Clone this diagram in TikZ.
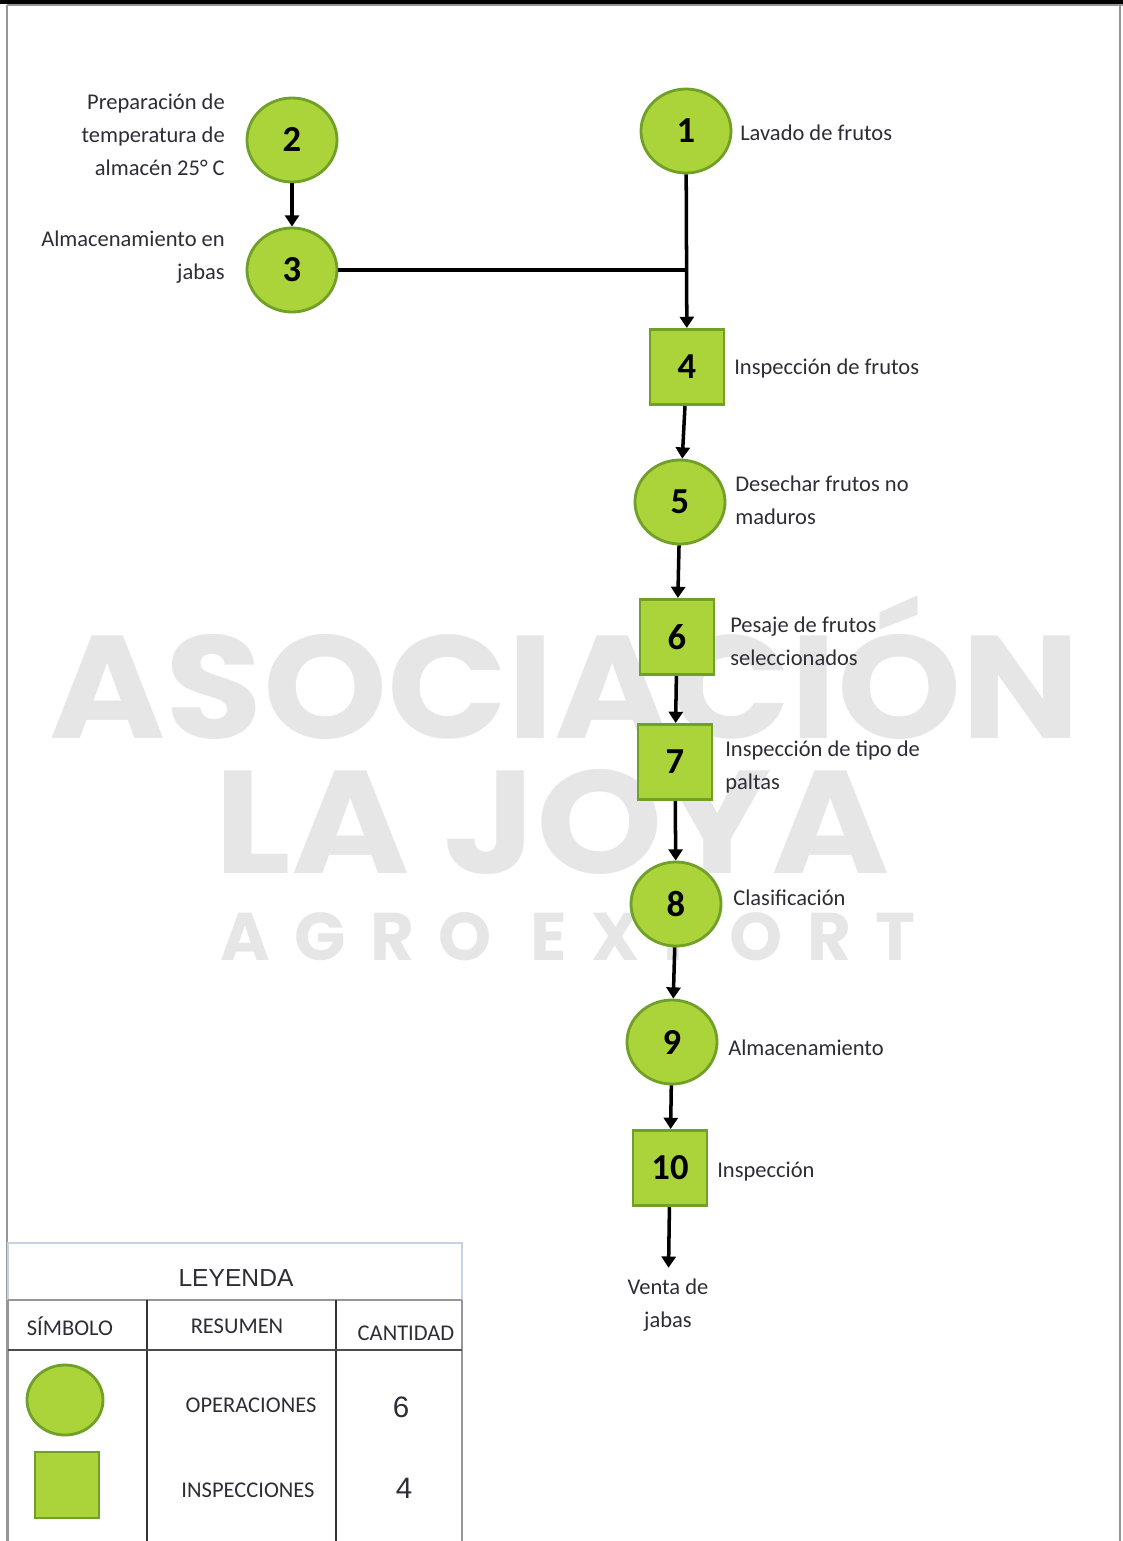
\documentclass[tikz,border=0pt]{standalone}
\usepackage{fontspec}
\setmainfont{Carlito}
\newfontfamily\arialfont{Liberation Sans}
\newfontfamily\wmfont{Poppins}
\usetikzlibrary{shapes.geometric, arrows.meta}

\definecolor{verde}{RGB}{170,212,58}
\definecolor{verdeosc}{RGB}{112,160,40}
\definecolor{texto}{RGB}{45,45,55}
\definecolor{marca}{RGB}{230,230,230}
\definecolor{borde}{RGB}{150,150,150}
\definecolor{azulgris}{RGB}{196,210,228}

\tikzset{
  oper/.style={ellipse, draw=verdeosc, fill=verde, line width=2pt,
    minimum width=2.25cm, minimum height=2.1cm, inner sep=0pt,
    font=\fontsize{26}{26}\selectfont\bfseries},
  insp/.style={rectangle, draw=verdeosc, fill=verde, line width=2pt,
    minimum width=1.85cm, minimum height=1.88cm, inner sep=0pt,
    font=\fontsize{26}{26}\selectfont\bfseries},
  etiq/.style={text=texto, font=\fontsize{16}{23.5}\selectfont, inner sep=0pt},
  leytxt/.style={text=texto, font=\fontsize{16}{16}\selectfont, inner sep=0pt},
  cifra/.style={text=texto, font=\arialfont\fontsize{21}{21}\selectfont, inner sep=0pt},
  flujo/.style={line width=2.5pt, -{Triangle[length=8pt,width=10pt]}},
  linea/.style={line width=2.5pt},
  marcaagua/.style={text=marca, inner sep=0pt}
}

\begin{document}
\begin{tikzpicture}[x=0.025cm, y=-0.025cm]
\useasboundingbox (0,0) rectangle (1123,1541);

% marca de agua
\node[marcaagua, xscale=1.08, font=\wmfont\bfseries\fontsize{104}{104}\selectfont] (wm1) at (565,668) {ASOCIACIÓN};
\node[marcaagua, xscale=1.1, font=\wmfont\bfseries\fontsize{104}{104}\selectfont] (wm2) at (552,822) {LA JOYA};
\node[marcaagua, font=\wmfont\bfseries\fontsize{48}{48}\selectfont\addfontfeature{LetterSpace=36}] (wm3) at (568,937) {AGRO EXPORT};

% marco
\draw[line width=3pt] (0,1.5) -- (1123,1.5);
\draw[line width=1.5pt] (568,0) -- (568,4);
\draw[borde, line width=0.8pt] (7,5) -- (1123,5);
\draw[borde, line width=1pt] (7,5) -- (7,1541);
\draw[borde, line width=1pt] (1120,5) -- (1120,1541);

% diagrama
\node[oper] (n1) at (686,131) {1};
\node[oper] (n2) at (292,140) {2};
\node[oper] (n3) at (292,270) {3};
\node[insp] (n4) at (687,367) {4};
\node[oper] (n5) at (680,502) {5};
\node[insp] (n6) at (677,637) {6};
\node[insp] (n7) at (675,762) {7};
\node[oper] (n8) at (676,904) {8};
\node[oper] (n9) at (672,1042) {9};
\node[insp] (n10) at (670,1168) {10};
\node[etiq, align=center, anchor=north] (venta) at (668,1279) {Venta de\\jabas};
\coordinate (union) at (686,270);

\node[etiq, anchor=west] (t1) at (740,133) {Lavado de frutos};
\node[etiq, anchor=east, align=right] (t2) at (225,135) {Preparación de\\temperatura de\\almacén 25° C};
\node[etiq, anchor=east, align=right] (t3) at (225,257) {Almacenamiento en\\jabas};
\node[etiq, anchor=west] (t4) at (734,368) {Inspección de frutos};
\node[etiq, anchor=west, align=left] (t5) at (735,500) {Desechar frutos no\\maduros};
\node[etiq, anchor=west, align=left] (t6) at (730,641) {Pesaje de frutos\\seleccionados};
\node[etiq, anchor=west, align=left] (t7) at (725,767) {Inspección de tipo de\\paltas};
\node[etiq, anchor=west] (t8) at (733,898) {Clasificación};
\node[etiq, anchor=west] (t9) at (728,1048) {Almacenamiento};
\node[etiq, anchor=west] (t10) at (717,1172) {Inspección};

\draw[flujo] (n2) -- (n3);
\draw[linea] (n3) -- (union);
\draw[flujo] (n1) -- (n4);
\draw[flujo] (n4) -- (n5);
\draw[flujo] (n5) -- (n6);
\draw[flujo] (n6) -- (n7);
\draw[flujo] (n7) -- (n8);
\draw[flujo] (n8) -- (n9);
\draw[flujo] (n9) -- (n10);
\draw[flujo, shorten >=8pt] (n10) -- (venta);

% leyenda
\draw[azulgris, line width=1pt] (8,1243) rectangle (462,1300);
\node[text=texto, font=\arialfont\fontsize{17.5}{17.5}\selectfont, inner sep=0pt] (leyenda) at (236,1278) {LEYENDA};
\draw[borde, line width=1pt] (8,1300) -- (462,1300);
\draw[borde, line width=1pt] (8,1300) -- (8,1541);
\draw[borde, line width=1pt] (462,1300) -- (462,1541);
\draw[black!80, line width=1.5pt] (147,1300) -- (147,1541);
\draw[black!80, line width=1.5pt] (336,1300) -- (336,1541);
\draw[black!70, line width=1.8pt] (8,1350) -- (462,1350);

\node[leytxt] (simbolo) at (70,1326) {SÍMBOLO};
\node[leytxt] (resumen) at (237,1326) {RESUMEN};
\node[leytxt] (cantidad) at (406,1333) {CANTIDAD};
\node[ellipse, draw=verdeosc, fill=verde, line width=2pt, minimum width=1.9cm, minimum height=1.75cm] (simop) at (65,1400) {};
\node[rectangle, draw=verdeosc, fill=verde, line width=2pt, minimum width=1.6cm, minimum height=1.65cm] (simin) at (67,1485) {};
\node[leytxt] (operac) at (251,1405) {OPERACIONES};
\node[leytxt] (inspec) at (248,1490) {INSPECCIONES};
\node[cifra] (c6) at (401,1407) {6};
\node[cifra] (c4) at (404,1488) {4};
\end{tikzpicture}
\end{document}
